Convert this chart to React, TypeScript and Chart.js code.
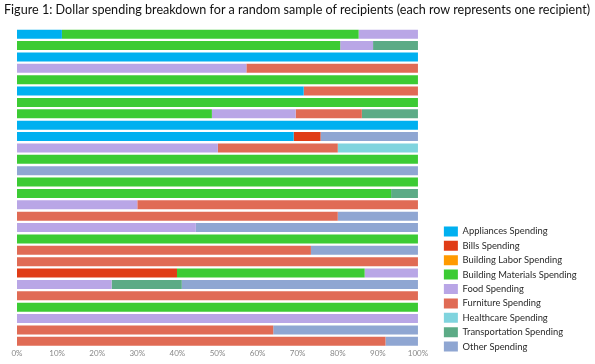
import React, { useEffect, useRef } from "react";
import { Chart, registerables } from "chart.js";

Chart.register(...registerables);

const recipients = Array.from({ length: 28 }, (_, i) => `Recipient ${i + 1}`);

const appliances = [11.2, 0, 100, 0, 0, 71.5, 0, 0, 100, 69, 0, 0, 0, 0, 0, 0, 0, 0, 0, 0, 0, 0, 0, 0, 0, 0, 0, 0];
const bills = [0, 0, 0, 0, 0, 0, 0, 0, 0, 6.7, 0, 0, 0, 0, 0, 0, 0, 0, 0, 0, 0, 39.9, 0, 0, 0, 0, 0, 0];
const buildingLabor = [0, 0, 0, 0, 0, 0, 0, 0, 0, 0, 0, 0, 0, 0, 0, 0, 0, 0, 0, 0, 0, 0, 0, 0, 0, 0, 0, 0];
const buildingMaterials = [74, 80.6, 0, 0, 100, 0, 100, 48.6, 0, 0, 0, 100, 0, 100, 93.3, 0, 0, 0, 100, 0, 0, 46.8, 0, 0, 100, 0, 0, 0];
const food = [14.8, 8.2, 0, 57.2, 0, 0, 0, 20.9, 0, 0, 50.1, 0, 0, 0, 0, 30, 0, 44.6, 0, 0, 0, 13.3, 23.6, 0, 0, 100, 0, 0];
const furniture = [0, 0, 0, 42.8, 0, 28.5, 0, 16.5, 0, 0, 29.9, 0, 0, 0, 0, 70, 80, 0, 0, 73.3, 100, 0, 0, 100, 0, 0, 63.9, 91.9];
const healthcare = [0, 0, 0, 0, 0, 0, 0, 0, 0, 0, 20, 0, 0, 0, 0, 0, 0, 0, 0, 0, 0, 0, 0, 0, 0, 0, 0, 0];
const transportation = [0, 11.2, 0, 0, 0, 0, 0, 14, 0, 0, 0, 0, 0, 0, 6.7, 0, 0, 0, 0, 0, 0, 0, 17.5, 0, 0, 0, 0, 0];
const other = [0, 0, 0, 0, 0, 0, 0, 0, 0, 24.3, 0, 0, 100, 0, 0, 0, 20, 55.4, 0, 26.7, 0, 0, 58.9, 0, 0, 0, 36.1, 8.1];

const seriesNames = [
  "Appliances Spending",
  "Bills Spending",
  "Building Labor Spending",
  "Building Materials Spending",
  "Food Spending",
  "Furniture Spending",
  "Healthcare Spending",
  "Transportation Spending",
  "Other Spending",
];
const seriesData = [appliances, bills, buildingLabor, buildingMaterials, food, furniture, healthcare, transportation, other];
const seriesColors = ["#00B0F0", "#E03C16", "#FF9A00", "#3CCB34", "#B9A6E6", "#E06B55", "#80D4DE", "#5CAB86", "#8FA6D2"];

const xTicks = [0, 10, 20, 30, 40, 50, 60, 70, 80, 90, 100];

const FONT = "Lato, 'Open Sans', sans-serif";

export default function App() {
  const ref = useRef<HTMLCanvasElement>(null);
  useEffect(() => {
    document.body.style.margin = "0";
    const chart = new Chart(ref.current!, {
      type: "bar",
      data: {
        labels: recipients,
        datasets: seriesNames.map((name, i) => ({
          label: name,
          data: seriesData[i],
          backgroundColor: seriesColors[i],
          borderWidth: 0,
          barPercentage: 0.8,
          categoryPercentage: 1,
        })),
      },
      options: {
        indexAxis: "y",
        animation: false,
        responsive: false,
        maintainAspectRatio: false,
        layout: { padding: { left: 17, top: 28.5, bottom: 8, right: 14.7 } },
        scales: {
          x: {
            stacked: true,
            min: 0,
            max: 100,
            afterBuildTicks: (s: any) => {
              s.ticks = xTicks.map((v) => ({ value: v }));
            },
            afterFit: (s: any) => {
              s.height = 9;
            },
            ticks: {
              callback: (v: any) => `${v}%`,
              color: "#888",
              font: { family: FONT, size: 8 },
              padding: 2,
              maxRotation: 0,
            },
            grid: { display: false, drawTicks: false },
            border: { display: false },
          },
          y: {
            stacked: true,
            position: "right",
            ticks: { display: false },
            grid: { display: false, drawTicks: false },
            border: { display: false },
            afterFit: (s: any) => {
              s.width = 21.5;
            },
          },
        },
        plugins: {
          legend: {
            position: "right",
            align: "end",
            labels: {
              boxWidth: 14,
              boxHeight: 10,
              padding: 4.4,
              color: "#2a2a2a",
              font: { family: FONT, size: 9.4 },
            },
          },
          tooltip: { enabled: false },
        },
      },
    });
    return () => chart.destroy();
  }, []);
  return (
    <div style={{ position: "relative", width: 595, height: 364, background: "#fff" }}>
      <div
        style={{
          position: "absolute",
          left: 4,
          top: 2,
          fontFamily: FONT,
          fontSize: 12.6,
          color: "#111",
          whiteSpace: "nowrap",
        }}
      >
        Figure 1: Dollar spending breakdown for a random sample of recipients (each row represents one recipient)
      </div>
      <canvas ref={ref} width={595} height={364} style={{ display: "block" }} />
    </div>
  );
}
